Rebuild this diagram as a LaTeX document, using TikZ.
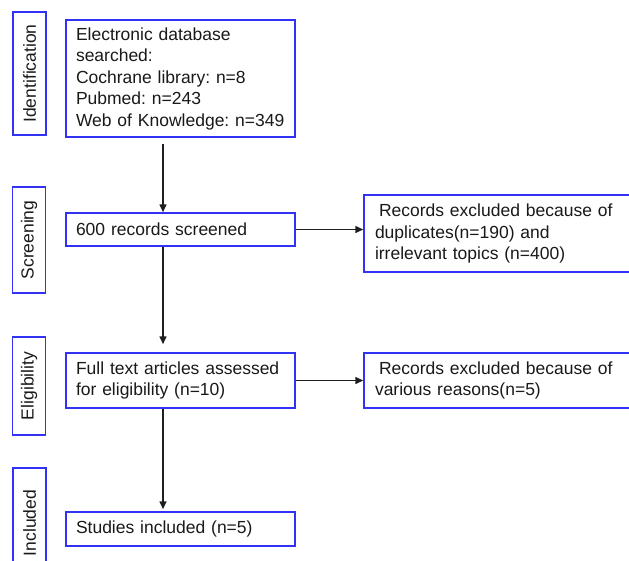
\documentclass[tikz,border=0pt]{standalone}
\usepackage{fontspec}
\setmainfont{Liberation Sans}
\usetikzlibrary{arrows.meta}
\definecolor{bordblue}{RGB}{50,50,245}
\definecolor{txt}{RGB}{25,25,25}
\definecolor{linec}{RGB}{30,30,30}
\begin{document}
\frenchspacing
\begin{tikzpicture}[x=1pt,y=-1pt,
  box/.style={draw=bordblue, line width=1.5pt, rectangle, inner ysep=0pt, inner xsep=10pt,
    text=txt, font=\fontsize{17.5}{21.5}\selectfont, align=left, anchor=center},
  stage/.style={draw=bordblue, line width=1.5pt, rectangle, inner sep=0pt, rotate=90,
    text=txt, font=\fontsize{17.5}{21.5}\selectfont, minimum height=33pt, anchor=center},
  arr/.style={draw=linec, line width=1.5pt, -{Triangle[length=8pt,width=7pt]}}]
\useasboundingbox (0,0) rectangle (629,560);
\clip (0,0) rectangle (629,560);

% stage labels
\node[stage, minimum width=123pt] (sid) at (29.5,73.5) {Identification};
\node[stage, minimum width=106pt] (sscr) at (29,240) {Screening};
\node[stage, minimum width=98pt] (self) at (29,386) {Eligibility};
\node[stage, minimum width=110pt] (sinc) at (29.5,523) {Included};

% main boxes
\node[box, text width=215pt, minimum width=229pt, minimum height=117pt, inner xsep=7pt] (top) at (180.5,78.5)
  {\hspace*{3pt}Electronic database\\\hspace*{3pt}searched:\\\hspace*{3pt}Cochrane library: n=8\\\hspace*{3pt}Pubmed: n=243\\\hspace*{3pt}Web of Knowledge: n=349};
\node[box, text width=209pt, minimum width=229pt, minimum height=33pt] (scr) at (180.5,229.5)
  {600 records screened};
\node[box, text width=209pt, minimum width=229pt, minimum height=55pt] (full) at (180.5,380.5)
  {Full text articles assessed\\for eligibility (n=10)};
\node[box, text width=209pt, minimum width=229pt, minimum height=34pt] (stud) at (180.5,529)
  {Studies included (n=5)};

% exclusion boxes
\node[box, inner xsep=11pt, text width=258pt, minimum width=280pt, minimum height=77pt] (ex1) at (504,233.5)
  {\hspace*{4pt}Records excluded because of\\duplicates(n=190) and\\irrelevant topics (n=400)};
\node[box, inner xsep=11pt, text width=258pt, minimum width=280pt, minimum height=55pt] (ex2) at (504,380.5)
  {\hspace*{4pt}Records excluded because of\\various reasons(n=5)};

% vertical connector axis
\coordinate (ax) at (163,0);

% connectors
\draw[arr, shorten <=6pt] (top.south -| ax) -- (scr.north -| ax);
\draw[arr, shorten >=8pt] (scr.south -| ax) -- (full.north -| ax);
\draw[arr, shorten >=2pt] (full.south -| ax) -- (stud.north -| ax);
\draw[arr] (scr.east) -- (scr.east -| ex1.west);
\draw[arr] (full.east) -- (full.east -| ex2.west);
\end{tikzpicture}
\end{document}
